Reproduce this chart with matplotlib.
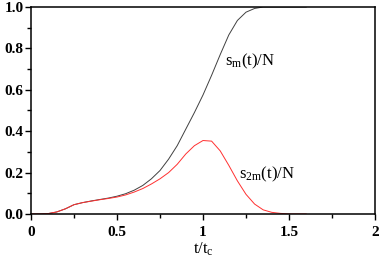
import matplotlib
matplotlib.use('Agg')
import matplotlib.pyplot as plt
from matplotlib.ticker import MultipleLocator

plt.rcParams['mathtext.fontset'] = 'custom'
plt.rcParams['mathtext.rm'] = 'Liberation Serif'

# valeurs
t = [0.0, 0.05, 0.1, 0.15, 0.2, 0.25, 0.3, 0.35, 0.4, 0.45, 0.5, 0.55, 0.6,
     0.65, 0.7, 0.75, 0.8, 0.85, 0.9, 0.95, 1.0, 1.05, 1.1, 1.15, 1.2,
     1.25, 1.3, 1.35, 1.4, 1.45, 1.5, 1.55, 1.6]
s_m = [0.0, 0.0, 0.002, 0.01, 0.025, 0.045, 0.055, 0.063, 0.07, 0.077, 0.086,
       0.098, 0.115, 0.138, 0.17, 0.21, 0.265, 0.33, 0.41, 0.49, 0.575, 0.67,
       0.77, 0.865, 0.935, 0.975, 0.993, 1.0, 1.0, 1.0, 1.0, 1.0, 1.0]
s_2m = [0.0, 0.0, 0.002, 0.01, 0.025, 0.045, 0.055, 0.062, 0.069, 0.075, 0.082,
        0.092, 0.106, 0.123, 0.145, 0.17, 0.2, 0.24, 0.29, 0.33, 0.355, 0.352,
        0.305, 0.235, 0.16, 0.095, 0.048, 0.02, 0.008, 0.003, 0.0, 0.0, 0.0]

fig = plt.figure(figsize=(3.82, 2.63), dpi=100)
ax = fig.add_axes([31/382, 1 - 214/263, 344/382, 207/263])

ax.plot(t, s_m, color='#404040', lw=0.7)
ax.plot(t, s_2m, color='#ff3030', lw=0.7)

ax.set_xlim(0, 2)
ax.set_ylim(0, 1)
ax.xaxis.set_minor_locator(MultipleLocator(0.25))
ax.yaxis.set_minor_locator(MultipleLocator(0.1))
ax.set_xticks([0, 0.5, 1, 1.5, 2])
ax.set_xticklabels(['0', '0.5', '1', '1.5', '2'])
ax.set_yticks([0, 0.2, 0.4, 0.6, 0.8, 1.0])
ax.set_yticklabels(['0.0', '0.2', '0.4', '0.6', '0.8', '1.0'])
ax.tick_params(which='both', direction='out', width=1, top=False, right=False)
ax.tick_params(which='major', length=4, labelsize=11)
ax.tick_params(axis='y', which='major', pad=1.5)
ax.tick_params(axis='x', which='major', pad=5)
ax.tick_params(which='minor', length=3)
for lab in ax.get_xticklabels() + ax.get_yticklabels():
    lab.set_fontfamily('Liberation Serif')
    lab.set_fontweight('bold')
for sp in ax.spines.values():
    sp.set_linewidth(1.1)

ax.set_xlabel(r'$\mathregular{t/t_c}$', fontfamily='Liberation Serif', fontsize=12, labelpad=1)
ax.text(1.13, 0.72, r'$\mathregular{s_m(t)/N}$', fontfamily='Liberation Serif', fontsize=12)
ax.text(1.21, 0.17, r'$\mathregular{s_{2m}(t)/N}$', fontfamily='Liberation Serif', fontsize=12)

fig.savefig('out.png', dpi=100)
